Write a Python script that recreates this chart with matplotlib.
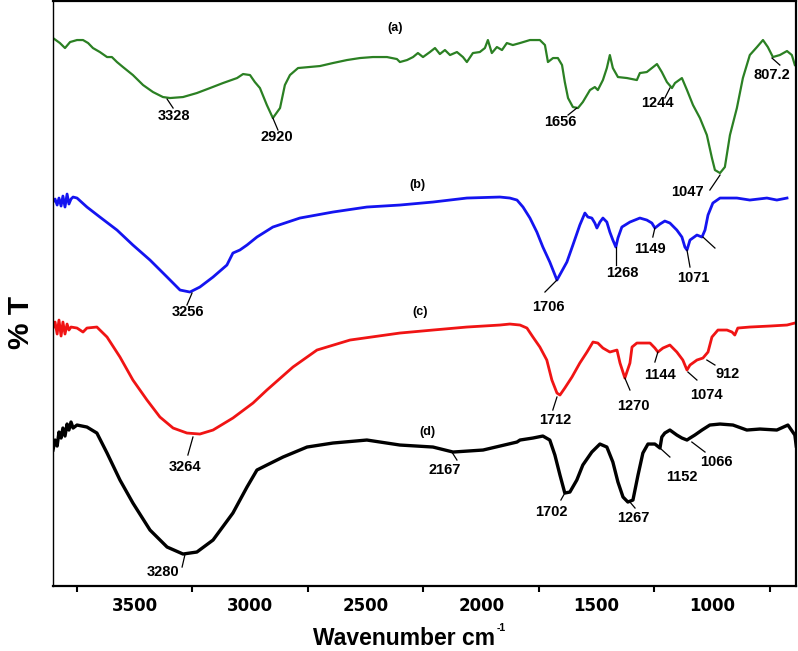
import matplotlib.pyplot as plt
from matplotlib.ticker import FixedLocator

plt.rcParams.update({
    "font.family": ["Liberation Sans", "DejaVu Sans"],
    "font.weight": "bold",
})

# ── Spectra (wavenumber cm-1, stacked %T in arbitrary units) ─────────────
wn_a = [3854, 3824, 3802, 3780, 3750, 3724, 3702, 3681, 3651, 3620, 3599, 3577, 3551, 3508,
        3464, 3421, 3378, 3347, 3291, 3231, 3174, 3118, 3057, 3031, 3001, 2980, 2958, 2928,
        2902, 2871, 2850, 2828, 2793, 2698, 2642, 2581, 2525, 2469, 2408, 2365, 2352, 2321,
        2295, 2274, 2252, 2222, 2200, 2179, 2157, 2135, 2105, 2079, 2062, 2036, 2006, 1984,
        1971, 1954, 1932, 1910, 1889, 1863, 1832, 1789, 1746, 1724, 1711, 1689, 1668, 1650,
        1638, 1624, 1603, 1581, 1560, 1529, 1508, 1495, 1473, 1456, 1443, 1430, 1408, 1369,
        1326, 1313, 1283, 1239, 1218, 1196, 1174, 1161, 1131, 1109, 1083, 1053, 1023, 1001,
        988, 966, 945, 923, 893, 867, 837, 806, 780, 759, 737, 707, 676, 655, 642]
t_a = [548, 543, 538, 544, 546, 546, 543, 538, 534, 529, 529, 524, 519, 511,
       501, 494, 489, 488, 489, 493, 498, 503, 508, 512, 511, 504, 498, 481,
       468, 478, 501, 511, 518, 520, 523, 526, 528, 529, 529, 527, 524, 526,
       529, 533, 529, 534, 538, 532, 536, 531, 534, 529, 524, 533, 534, 538,
       546, 533, 539, 536, 543, 541, 543, 546, 546, 541, 524, 528, 528, 521,
       504, 488, 479, 478, 484, 496, 499, 496, 506, 518, 531, 518, 509, 508,
       506, 513, 514, 522, 514, 504, 498, 503, 508, 496, 481, 468, 451, 428,
       416, 413, 419, 451, 478, 508, 531, 539, 546, 539, 529, 531, 535, 531, 521]

wn_b = [3854, 3845, 3836, 3828, 3819, 3811, 3802, 3793, 3785, 3776, 3767, 3750, 3707, 3651,
        3577, 3508, 3434, 3360, 3304, 3261, 3218, 3161, 3101, 3075, 3045, 3014, 2971, 2902,
        2785, 2642, 2495, 2352, 2209, 2062, 1919, 1876, 1845, 1819, 1789, 1759, 1733, 1703,
        1672, 1629, 1603, 1573, 1551, 1538, 1521, 1508, 1499, 1486, 1473, 1456, 1443, 1430,
        1417, 1408, 1391, 1356, 1313, 1283, 1261, 1248, 1226, 1205, 1183, 1153, 1131, 1118,
        1109, 1096, 1066, 1044, 1031, 1018, 997, 966, 893, 837, 763, 720, 676]
t_b = [384, 387, 381, 388, 380, 390, 379, 392, 382, 387, 389, 388, 379, 369,
       356, 341, 326, 309, 296, 294, 299, 309, 321, 333, 336, 341, 349, 359,
       368, 374, 379, 381, 384, 388, 389, 388, 386, 379, 368, 354, 339, 324,
       306, 324, 341, 361, 373, 369, 368, 363, 358, 364, 368, 364, 354, 346,
       339, 348, 359, 364, 368, 366, 363, 358, 362, 365, 363, 356, 349, 339,
       336, 346, 351, 349, 356, 371, 383, 388, 388, 386, 388, 386, 388]

wn_c = [3854, 3845, 3836, 3828, 3819, 3811, 3802, 3793, 3785, 3776, 3750, 3724, 3707, 3664,
        3620, 3564, 3508, 3447, 3391, 3334, 3274, 3218, 3161, 3075, 2988, 2928, 2815, 2711,
        2568, 2352, 2209, 2062, 1919, 1876, 1832, 1802, 1776, 1746, 1716, 1694, 1672, 1659,
        1638, 1607, 1573, 1542, 1516, 1495, 1473, 1443, 1412, 1399, 1378, 1356, 1347, 1326,
        1269, 1248, 1235, 1213, 1183, 1153, 1127, 1109, 1096, 1066, 1040, 1018, 1001, 975,
        936, 914, 902, 889, 837, 750, 676, 642]
t_c = [258, 264, 252, 266, 250, 264, 252, 262, 256, 259, 258, 254, 258, 259,
       249, 229, 206, 186, 169, 158, 153, 152, 156, 168, 183, 196, 219, 236,
       246, 253, 256, 259, 261, 262, 261, 258, 249, 239, 226, 206, 193, 191,
       198, 209, 223, 234, 244, 243, 238, 234, 236, 223, 208, 223, 239, 243,
       243, 238, 234, 238, 241, 234, 226, 216, 221, 226, 228, 234, 249, 256,
       256, 254, 251, 258, 259, 260, 261, 263]

wn_d = [3854, 3845, 3836, 3828, 3819, 3811, 3802, 3793, 3785, 3776, 3767, 3750, 3707, 3664,
        3620, 3564, 3508, 3434, 3360, 3291, 3231, 3161, 3075, 3014, 2971, 2928, 2858, 2754,
        2642, 2495, 2352, 2209, 2122, 1992, 1845, 1832, 1776, 1733, 1703, 1681, 1659, 1638,
        1616, 1586, 1560, 1521, 1486, 1456, 1430, 1408, 1386, 1365, 1343, 1321, 1300, 1278,
        1248, 1226, 1218, 1205, 1183, 1153, 1131, 1109, 1096, 1075, 1044, 1010, 966, 910,
        850, 793, 720, 672, 642, 636]
t_d = [136, 146, 140, 154, 148, 158, 150, 162, 156, 164, 158, 161, 159, 153,
       133, 106, 83, 56, 39, 32, 34, 46, 73, 99, 116, 121, 129, 139,
       143, 146, 141, 139, 134, 136, 144, 146, 148, 150, 146, 131, 111, 93,
       94, 106, 121, 134, 142, 139, 124, 104, 89, 84, 86, 111, 133, 142,
       142, 138, 149, 153, 156, 151, 148, 146, 148, 151, 156, 161, 162, 161,
       156, 157, 156, 161, 151, 140]

# ── Peak labels: (text, text pos, leader start, leader end) ──────────────
peaks = [
    ("3328", (3330, 470), (3360, 487), (3334, 478)),
    ("2920", (2884, 449), (2902, 468), (2880, 456)),
    ("1656", (1659, 464), (1586, 478), (1624, 471)),
    ("1244", (1239, 483), (1183, 498), (1205, 488)),
    ("1047", (1105, 394), (966, 411), (1010, 396)),
    ("807.2", (741, 511), (741, 528), (707, 521)),
    ("3256", (3270, 274), (3252, 293), (3274, 281)),
    ("1706", (1707, 279), (1672, 306), (1724, 294)),
    ("1268", (1391, 313), (1417, 339), (1417, 321)),
    ("1149", (1270, 337), (1248, 358), (1257, 349)),
    ("1071", (1083, 308), (1109, 336), (1096, 319)),
    ("", None, (1040, 349), (988, 338)),
    ("3264", (3283, 119), (3248, 149), (3270, 131)),
    ("1712", (1681, 166), (1672, 189), (1690, 176)),
    ("1270", (1343, 180), (1378, 208), (1356, 196)),
    ("1144", (1226, 211), (1235, 234), (1248, 224)),
    ("1074", (1023, 191), (1105, 214), (1066, 206)),
    ("912", (932, 212), (1023, 226), (988, 221)),
    ("3280", (3378, 14), (3282, 32), (3295, 19)),
    ("2167", (2157, 116), (2127, 134), (2105, 126)),
    ("1702", (1694, 74), (1638, 93), (1655, 86)),
    ("1267", (1343, 68), (1356, 84), (1334, 78)),
    ("1152", (1131, 109), (1226, 138), (1183, 129)),
    ("1066", (980, 124), (1088, 144), (1031, 134)),
]
curve_tags = [("(a)", 2373, 558), ("(b)", 2278, 401), ("(c)", 2265, 274), ("(d)", 2231, 154)]

fig = plt.figure(figsize=(7.98, 6.51), dpi=100)
ax = fig.add_axes([0.0664, 0.0998, 0.9311, 0.8986])

ax.plot(wn_a, t_a, color="#2b8023", lw=1.6)
ax.plot(wn_b, t_b, color="#1414f0", lw=2.0)
ax.plot(wn_c, t_c, color="#f01414", lw=2.0)
ax.plot(wn_d, t_d, color="black", lw=2.4)

for txt, tpos, p0, p1 in peaks:
    ax.plot([p0[0], p1[0]], [p0[1], p1[1]], color="black", lw=0.9)
    if tpos is not None:
        ax.text(tpos[0], tpos[1], txt, ha="center", va="center",
                fontsize=10.5, fontweight="bold")

for tag, x, y in curve_tags:
    ax.text(x, y, tag, ha="center", va="center", fontsize=9, fontweight="bold")

ax.set_xlim(3854, 637)
ax.set_ylim(0, 585)
ax.set_yticks([])
ax.xaxis.set_major_locator(FixedLocator([3500, 3000, 2500, 2000, 1500, 1000]))
ax.xaxis.set_minor_locator(FixedLocator([3750, 3250, 2750, 2250, 1750, 1250, 750]))
ax.tick_params(axis="x", which="major", length=0, pad=8)
ax.tick_params(axis="x", which="minor", length=4, width=1.5, direction="out")
for lab in ax.get_xticklabels():
    lab.set_fontfamily("DejaVu Sans")
    lab.set_fontweight("bold")
    lab.set_fontsize(12)

for side in ["top", "right", "bottom"]:
    ax.spines[side].set_linewidth(1.6)
ax.spines["left"].set_linewidth(1.0)

# x-axis title with a small "-1" superscript
fig.text(495 / 798, 1 - 645 / 651, "Wavenumber cm", ha="right", va="baseline",
         fontsize=16.5, fontweight="bold")
fig.text(497 / 798, 1 - 631 / 651, "-1", ha="left", va="baseline",
         fontsize=7.5, fontweight="bold")
fig.text(21 / 798, 1 - 322 / 651, "% T", ha="center", va="center", rotation=90,
         fontsize=21.5, fontweight="bold")

fig.savefig("out.png", dpi=100)
